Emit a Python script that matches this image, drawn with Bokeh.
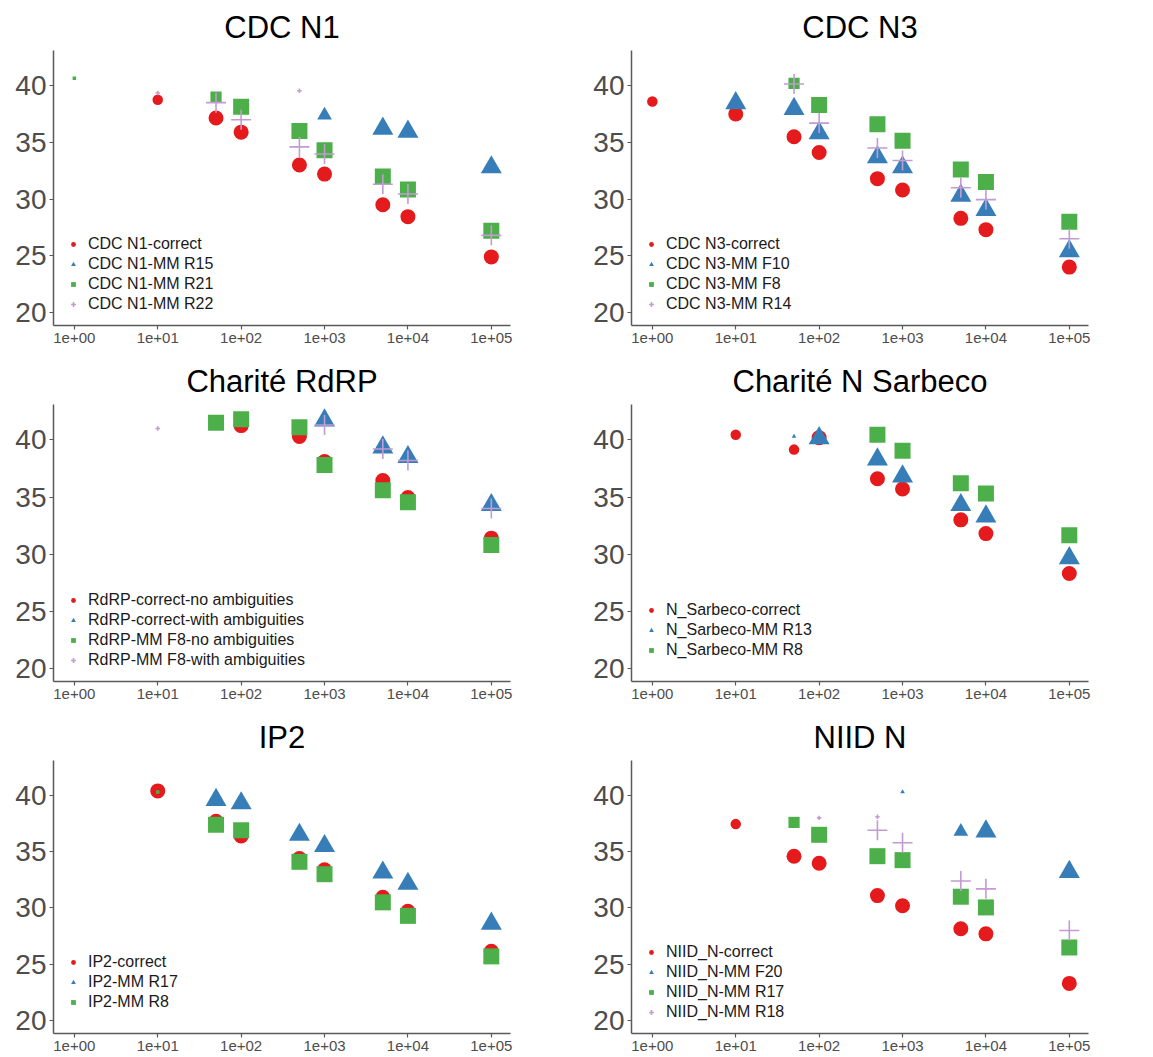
from bokeh.plotting import figure
from bokeh.layouts import gridplot
from bokeh.models import (Range1d, FixedTicker, CustomJSTickFormatter, Legend,
                          LegendItem, ColumnDataSource)
from bokeh.embed import file_html
from bokeh.resources import INLINE

# ---------------- data (concentration, Ct, marker-size level 1=tiny 2=medium 3=large) ----
titles = ["CDC N1", "CDC N3", "Charité RdRP", "Charité N Sarbeco", "IP2", "NIID N"]
x_ticks = [1, 10, 100, 1000, 10000, 100000]
y_ticks = [20, 25, 30, 35, 40]

# CDC N1
n1_labels = ["CDC N1-correct", "CDC N1-MM R15", "CDC N1-MM R21", "CDC N1-MM R22"]
n1_correct_conc = [1e1, 5e1, 1e2, 5e2, 1e3, 5e3, 1e4, 1e5]
n1_correct_ct = [38.75, 37.15, 35.9, 33.0, 32.2, 29.5, 28.45, 24.9]
n1_correct_lvl = [2, 3, 3, 3, 3, 3, 3, 3]
n1_r15_conc = [1e3, 5e3, 1e4, 1e5]
n1_r15_ct = [37.4, 36.2, 35.95, 32.8]
n1_r15_lvl = [2, 3, 3, 3]
n1_r21_conc = [1e0, 5e1, 1e2, 5e2, 1e3, 5e3, 1e4, 1e5]
n1_r21_ct = [40.65, 39.0, 38.15, 36.0, 34.3, 32.0, 30.85, 27.2]
n1_r21_lvl = [1, 2, 3, 3, 3, 3, 3, 3]
n1_r22_conc = [1e1, 5e1, 1e2, 5e2, 5e2, 1e3, 5e3, 1e4, 1e5]
n1_r22_ct = [39.35, 38.5, 37.0, 39.55, 34.6, 33.97, 31.3, 30.45, 26.8]
n1_r22_lvl = [1, 3, 3, 1, 3, 3, 3, 3, 3]

# CDC N3
n3_labels = ["CDC N3-correct", "CDC N3-MM F10", "CDC N3-MM F8", "CDC N3-MM R14"]
n3_correct_conc = [1e0, 1e1, 5e1, 1e2, 5e2, 1e3, 5e3, 1e4, 1e5]
n3_correct_ct = [38.6, 37.5, 35.5, 34.1, 31.8, 30.8, 28.3, 27.3, 24.0]
n3_correct_lvl = [2, 3, 3, 3, 3, 3, 3, 3, 3]
n3_f10_conc = [1e1, 5e1, 1e2, 5e2, 1e3, 5e3, 1e4, 1e5]
n3_f10_ct = [38.45, 37.95, 35.8, 33.7, 32.8, 30.3, 29.05, 25.4]
n3_f10_lvl = [3, 3, 3, 3, 3, 3, 3, 3]
n3_f8_conc = [5e1, 1e2, 5e2, 1e3, 5e3, 1e4, 1e5]
n3_f8_ct = [40.2, 38.3, 36.6, 35.15, 32.6, 31.5, 28.0]
n3_f8_lvl = [2, 3, 3, 3, 3, 3, 3]
n3_r14_conc = [5e1, 1e2, 5e2, 1e3, 5e3, 1e4, 1e5]
n3_r14_ct = [40.15, 36.7, 34.5, 33.4, 31.0, 29.95, 26.5]
n3_r14_lvl = [3, 3, 3, 3, 3, 3, 3]

# Charité RdRP
rdrp_labels = ["RdRP-correct-no ambiguities", "RdRP-correct-with ambiguities",
               "RdRP-MM F8-no ambiguities", "RdRP-MM F8-with ambiguities"]
rdrp_cn_conc = [1e2, 5e2, 1e3, 5e3, 1e4, 1e5]
rdrp_cn_ct = [41.25, 40.3, 38.1, 36.45, 34.95, 31.4]
rdrp_cn_lvl = [3, 3, 3, 3, 3, 3]
rdrp_cw_conc = [1e3, 5e3, 1e4, 1e5]
rdrp_cw_ct = [41.7, 39.35, 38.5, 34.3]
rdrp_cw_lvl = [3, 3, 3, 3]
rdrp_mn_conc = [5e1, 1e2, 5e2, 1e3, 5e3, 1e4, 1e5]
rdrp_mn_ct = [41.5, 41.8, 41.1, 37.8, 35.6, 34.55, 30.8]
rdrp_mn_lvl = [3, 3, 3, 3, 3, 3, 3]
rdrp_mw_conc = [1e1, 1e3, 5e3, 1e4, 1e5]
rdrp_mw_ct = [41.0, 41.3, 39.2, 38.2, 34.0]
rdrp_mw_lvl = [1, 3, 3, 3, 3]

# Charité N Sarbeco
sarb_labels = ["N_Sarbeco-correct", "N_Sarbeco-MM R13", "N_Sarbeco-MM R8"]
sarb_correct_conc = [1e1, 5e1, 1e2, 5e2, 1e3, 5e3, 1e4, 1e5]
sarb_correct_ct = [40.45, 39.15, 40.2, 36.6, 35.7, 33.0, 31.8, 28.3]
sarb_correct_lvl = [2, 2, 3, 3, 3, 3, 3, 3]
sarb_r13_conc = [5e1, 1e2, 5e2, 1e3, 5e3, 1e4, 1e5]
sarb_r13_ct = [40.3, 40.15, 38.3, 36.8, 34.3, 33.3, 29.65]
sarb_r13_lvl = [1, 3, 3, 3, 3, 3, 3]
sarb_r8_conc = [5e2, 1e3, 5e3, 1e4, 1e5]
sarb_r8_ct = [40.45, 39.05, 36.2, 35.3, 31.65]
sarb_r8_lvl = [3, 3, 3, 3, 3]

# IP2
ip2_labels = ["IP2-correct", "IP2-MM R17", "IP2-MM R8"]
ip2_correct_conc = [1e1, 5e1, 1e2, 5e2, 1e3, 5e3, 1e4, 1e5]
ip2_correct_ct = [40.4, 37.7, 36.4, 34.4, 33.4, 30.95, 29.7, 26.15]
ip2_correct_lvl = [3, 3, 3, 3, 3, 3, 3, 3]
ip2_r17_conc = [5e1, 1e2, 5e2, 1e3, 5e3, 1e4, 1e5]
ip2_r17_ct = [39.6, 39.3, 36.5, 35.5, 33.15, 32.15, 28.6]
ip2_r17_lvl = [3, 3, 3, 3, 3, 3, 3]
ip2_r8_conc = [1e1, 5e1, 1e2, 5e2, 1e3, 5e3, 1e4, 1e5]
ip2_r8_ct = [40.3, 37.4, 36.9, 34.1, 33.0, 30.5, 29.3, 25.7]
ip2_r8_lvl = [1, 3, 3, 3, 3, 3, 3, 3]

# NIID N
niid_labels = ["NIID_N-correct", "NIID_N-MM F20", "NIID_N-MM R17", "NIID_N-MM R18"]
niid_correct_conc = [1e1, 5e1, 1e2, 5e2, 1e3, 5e3, 1e4, 1e5]
niid_correct_ct = [37.45, 34.6, 33.97, 31.1, 30.2, 28.15, 27.7, 23.3]
niid_correct_lvl = [2, 3, 3, 3, 3, 3, 3, 3]
niid_f20_conc = [1e3, 5e3, 1e4, 1e5]
niid_f20_ct = [40.3, 36.8, 36.8, 33.2]
niid_f20_lvl = [1, 2, 3, 3]
niid_r17_conc = [5e1, 1e2, 5e2, 1e3, 5e3, 1e4, 1e5]
niid_r17_ct = [37.6, 36.5, 34.6, 34.25, 31.0, 30.05, 26.5]
niid_r17_lvl = [2, 3, 3, 3, 3, 3, 3]
niid_r18_conc = [1e2, 5e2, 5e2, 1e3, 5e3, 1e4, 1e5]
niid_r18_ct = [38.0, 38.1, 36.9, 35.8, 32.4, 31.7, 28.0]
niid_r18_lvl = [1, 1, 3, 3, 3, 3, 3]

panels = [
    (titles[0], n1_labels, [(n1_correct_conc, n1_correct_ct, n1_correct_lvl),
                            (n1_r15_conc, n1_r15_ct, n1_r15_lvl),
                            (n1_r21_conc, n1_r21_ct, n1_r21_lvl),
                            (n1_r22_conc, n1_r22_ct, n1_r22_lvl)]),
    (titles[1], n3_labels, [(n3_correct_conc, n3_correct_ct, n3_correct_lvl),
                            (n3_f10_conc, n3_f10_ct, n3_f10_lvl),
                            (n3_f8_conc, n3_f8_ct, n3_f8_lvl),
                            (n3_r14_conc, n3_r14_ct, n3_r14_lvl)]),
    (titles[2], rdrp_labels, [(rdrp_cn_conc, rdrp_cn_ct, rdrp_cn_lvl),
                              (rdrp_cw_conc, rdrp_cw_ct, rdrp_cw_lvl),
                              (rdrp_mn_conc, rdrp_mn_ct, rdrp_mn_lvl),
                              (rdrp_mw_conc, rdrp_mw_ct, rdrp_mw_lvl)]),
    (titles[3], sarb_labels, [(sarb_correct_conc, sarb_correct_ct, sarb_correct_lvl),
                              (sarb_r13_conc, sarb_r13_ct, sarb_r13_lvl),
                              (sarb_r8_conc, sarb_r8_ct, sarb_r8_lvl)]),
    (titles[4], ip2_labels, [(ip2_correct_conc, ip2_correct_ct, ip2_correct_lvl),
                             (ip2_r17_conc, ip2_r17_ct, ip2_r17_lvl),
                             (ip2_r8_conc, ip2_r8_ct, ip2_r8_lvl)]),
    (titles[5], niid_labels, [(niid_correct_conc, niid_correct_ct, niid_correct_lvl),
                              (niid_f20_conc, niid_f20_ct, niid_f20_lvl),
                              (niid_r17_conc, niid_r17_ct, niid_r17_lvl),
                              (niid_r18_conc, niid_r18_ct, niid_r18_lvl)]),
]

# ---------------- styling ----------------
MARKERS = ["circle", "triangle", "square", "cross"]
COLORS = ["#E41A1C", "#377EB8", "#4DAF4A", "#C39BD3"]
BASE_SIZE = {"circle": 15, "triangle": 21, "square": 16, "cross": 20}
LEVEL_SCALE = {1: 0.22, 2: 0.7, 3: 1.0}
FONT = "Liberation Sans"
AXIS_COLOR = "#5A5A5A"
LABEL_COLOR = "#4D4D4D"

COL_BORDERS = [(53, 66), (55, 60)]
ROW_GEOM = [(50, 275, 30), (48, 277, 30), (48, 273, 24)]

fmt_code = """
const e = Math.round(Math.log10(tick));
const s = e < 0 ? '-' : '+';
return '1e' + s + String(Math.abs(e)).padStart(2, '0');
"""


def make_panel(i, title, labels, series):
    col, row = i % 2, i // 2
    bl, br = COL_BORDERS[col]
    bt, fh, bb = ROW_GEOM[row]
    p = figure(frame_width=457, frame_height=fh, min_border_left=bl, min_border_right=br,
               min_border_top=bt, min_border_bottom=bb,
               x_axis_type="log", x_range=Range1d(10 ** -0.25, 10 ** 5.23),
               y_range=Range1d(18.85, 43.1), output_backend="svg",
               toolbar_location=None, title=title)
    p.title.align = "center"
    p.title.text_font = FONT
    p.title.text_font_size = "31px"
    p.title.text_font_style = "normal"
    p.title.text_color = "#000000"
    p.title.standoff = 12
    p.grid.visible = False
    p.outline_line_color = None
    p.background_fill_color = "white"
    p.border_fill_color = "white"

    p.xaxis.ticker = FixedTicker(ticks=x_ticks)
    p.xaxis.formatter = CustomJSTickFormatter(code=fmt_code)
    p.yaxis.ticker = FixedTicker(ticks=y_ticks)
    for ax in (p.xaxis, p.yaxis):
        ax.axis_line_color = AXIS_COLOR
        ax.axis_line_width = 1.5
        ax.major_tick_line_color = AXIS_COLOR
        ax.major_tick_line_width = 1.2
        ax.major_tick_out = 4
        ax.major_tick_in = 0
        ax.minor_tick_out = 0
        ax.minor_tick_in = 0
        ax.major_label_text_font = FONT
        ax.major_label_text_color = LABEL_COLOR
    p.xaxis.major_label_text_font_size = "15px"
    p.xaxis.major_label_standoff = 3
    p.yaxis.major_label_text_font_size = "28px"
    p.yaxis.major_label_standoff = 3

    items = []
    for k, (conc, ct, lvl) in enumerate(series):
        m = MARKERS[k]
        c = COLORS[k]
        sizes = [BASE_SIZE[m] * LEVEL_SCALE[v] for v in lvl]
        src = ColumnDataSource(dict(x=conc, y=ct, s=sizes))
        if m == "cross":
            r = p.scatter(x="x", y="y", size="s", marker=m, source=src,
                          line_color=c, line_width=1.6)
        else:
            r = p.scatter(x="x", y="y", size="s", marker=m, source=src,
                          fill_color=c, line_color=None)
        items.append(LegendItem(label=labels[k], renderers=[r], index=0))

    n = len(items)
    legend = Legend(items=items, location=(14, 51 - 10 * n), orientation="vertical",
                    background_fill_alpha=0, border_line_alpha=0,
                    label_text_font=FONT, label_text_font_size="16px",
                    label_text_color="#1A1A1A", label_height=20,
                    glyph_height=12, glyph_width=12, label_standoff=9,
                    padding=0, margin=0, spacing=0)
    p.add_layout(legend)
    return p


figs = [make_panel(i, t, l, s) for i, (t, l, s) in enumerate(panels)]
grid = gridplot([[figs[0], figs[1]], [figs[2], figs[3]], [figs[4], figs[5]]],
                toolbar_location=None)

open("out.html", "w").write(file_html(grid, INLINE))
